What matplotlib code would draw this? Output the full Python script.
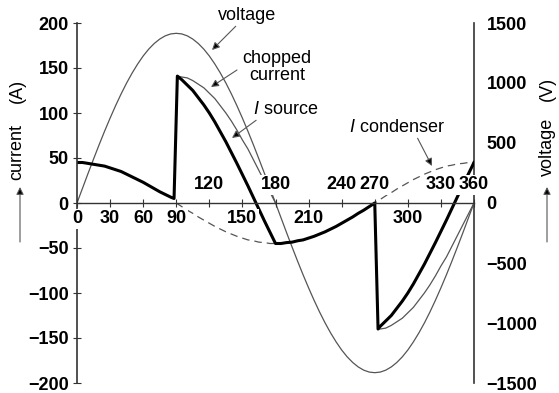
import numpy as np
import matplotlib
matplotlib.use("Agg")
import matplotlib.pyplot as plt

plt.rcParams['font.family'] = ['Liberation Sans', 'DejaVu Sans']
plt.rcParams['mathtext.fontset'] = 'custom'
plt.rcParams['mathtext.it'] = 'Liberation Sans:italic'
plt.rcParams['mathtext.rm'] = 'Liberation Sans'

# phase angle (degrees) for voltage, sampled every 5 deg
theta = np.arange(0, 361, 5)
voltage = [0, 123, 246, 366, 484, 598, 707, 811, 909, 1000, 1083, 1158, 1225, 1282, 1329, 1366, 1393, 1409, 1414,
           1409, 1393, 1366, 1329, 1282, 1225, 1158, 1083, 1000, 909, 811, 707, 598, 484, 366, 246, 123, 0,
           -123, -246, -366, -484, -598, -707, -811, -909, -1000, -1083, -1158, -1225, -1282, -1329, -1366, -1393, -1409, -1414,
           -1409, -1393, -1366, -1329, -1282, -1225, -1158, -1083, -1000, -909, -811, -707, -598, -484, -366, -246, -123, 0]

# chopped current (two half waves)
chop1_theta = [91] + list(range(95, 181, 5))
chop1 = [141, 140, 139, 136, 132, 128, 122, 116, 108, 100, 91, 81, 70, 60, 48, 36, 24, 12, 0]
chop2_theta = [273] + list(range(275, 361, 5))
chop2 = [-140, -140, -139, -136, -132, -128, -122, -116, -108, -100, -91, -81, -70, -60, -48, -36, -24, -12, 0]

# source current
src_theta = list(range(0, 86, 5)) + [88, 91] + list(range(95, 271, 5)) + [273] + list(range(275, 361, 5))
src = [45, 45, 44, 43, 42, 41, 39, 37, 35, 32, 29, 26, 23, 19.5, 16, 12.5, 9.5, 6.5,
       5, 141,
       137, 131, 125, 117, 109, 100, 90, 79, 68, 56, 44, 31.5, 19, 6, -7, -20, -32.5, -45,
       -45, -44, -43.5, -42, -41, -39, -37, -34.5, -32, -29, -26, -22.5, -19, -15.5, -11.5, -8, -4, 0,
       -140,
       -137, -131, -125, -117, -109, -100, -90, -79, -68, -56, -44, -31.5, -19, -6, 7, 20, 32.5, 45]

# condenser current
cond_theta = list(range(90, 361, 5))
cond = [0, -4, -8, -11.5, -15.5, -19, -22.5, -26, -29, -32, -34.5, -37, -39, -41, -42, -43.5, -44, -45, -45,
        -45, -44, -43.5, -42, -41, -39, -37, -34.5, -32, -29, -26, -22.5, -19, -15.5, -11.5, -8, -4, 0,
        4, 8, 11.5, 15.5, 19, 22.5, 26, 29, 32, 34.5, 37, 39, 41, 42, 43.5, 44, 45, 45]

x_ticks = list(range(0, 361, 30))
x_above = [120, 180, 240, 270, 330, 360]
current_ticks = list(range(-200, 201, 50))
voltage_ticks = list(range(-1500, 1501, 500))

W, H = 559, 393
thin = '#555555'


def fig_xy(px, py):
    return (px / W, 1 - py / H)


def num(v):
    return str(v).replace('-', '\u2212')


fig = plt.figure(figsize=(W / 100, H / 100), dpi=100)
rect = [77 / W, 1 - 383 / H, (474 - 77) / W, 360 / H]
ax = fig.add_axes(rect)
ax2 = ax.twinx()
ax.set_zorder(ax2.get_zorder() + 1)
ax.patch.set_visible(False)

ax.set_xlim(0, 360)
ax.set_ylim(-200, 200)
ax2.set_ylim(-1500, 1500)

# voltage on right axis (behind)
ax2.plot(theta, voltage, color=thin, lw=0.9)

ax.plot(chop1_theta, chop1, color=thin, lw=0.9)
ax.plot(chop2_theta, chop2, color=thin, lw=0.9)
ax.plot(cond_theta, cond, color=thin, lw=0.9, dashes=(6, 4))
ax.plot(src_theta, src, color='black', lw=2.2)

# spines
for s in ['top', 'right']:
    ax.spines[s].set_visible(False)
ax.spines['bottom'].set_position(('data', 0))
ax.spines['left'].set_color('#333333')
ax.spines['bottom'].set_color('#333333')
ax.spines['left'].set_linewidth(1.2)
ax.spines['bottom'].set_linewidth(1.0)
for s in ['top', 'left', 'bottom']:
    ax2.spines[s].set_visible(False)
ax2.spines['right'].set_color('#333333')
ax2.spines['right'].set_linewidth(1.2)

ax.set_xticks(x_ticks)
ax.set_xticklabels([])
ax.tick_params(axis='x', direction='inout', length=6, width=0.8, color='#333333')
ax.set_yticks(current_ticks)
ax.set_yticklabels([num(v) for v in current_ticks])
ax.tick_params(axis='y', direction='inout', length=6, width=0.8, color='#333333',
               labelsize=13, pad=3)
for lbl in ax.get_yticklabels():
    lbl.set_fontweight('bold')

ax2.set_yticks(voltage_ticks)
ax2.set_yticklabels([num(v) for v in voltage_ticks])
ax2.tick_params(axis='y', length=0, labelsize=13, pad=9)
for lbl in ax2.get_yticklabels():
    lbl.set_fontweight('bold')

# x tick labels, alternately above/below the zero line
for t in x_ticks:
    off = 13 if t in x_above else -11.5
    ax.annotate(str(t), xy=(t, 0), xytext=(0, off), textcoords='offset points',
                ha='center', va='center', fontsize=13, fontweight='bold',
                bbox=dict(fc='white', ec='none', pad=1.2), zorder=6)

# curve annotations
arrow = dict(arrowstyle='-|>', ec=thin, fc='black', lw=0.8, mutation_scale=11, shrinkA=0, shrinkB=0)
ax.annotate('voltage', xy=fig_xy(212, 50), xycoords='figure fraction',
            xytext=fig_xy(247, 15), textcoords='figure fraction',
            ha='center', va='center', fontsize=13, zorder=7, arrowprops=arrow)
ax.annotate('', xy=fig_xy(211, 87), xycoords='figure fraction',
            xytext=fig_xy(237, 70), textcoords='figure fraction', arrowprops=arrow, zorder=7)
ax.annotate('chopped\ncurrent', xy=fig_xy(277, 67), xycoords='figure fraction',
            ha='center', va='center', fontsize=13, linespacing=1.0, zorder=7)
ax.annotate('$I$ source', xy=fig_xy(232, 138), xycoords='figure fraction',
            xytext=fig_xy(286, 109), textcoords='figure fraction',
            ha='center', va='center', fontsize=13, zorder=7,
            arrowprops=dict(arrow, relpos=(0.1, 0.0)))
ax.annotate('$I$ condenser', xy=fig_xy(432, 166), xycoords='figure fraction',
            xytext=fig_xy(397, 127), textcoords='figure fraction',
            ha='center', va='center', fontsize=13, zorder=7,
            arrowprops=dict(arrow, relpos=(0.7, 0.0)))

# axis titles with arrows
fig.text(*fig_xy(17, 152), 'current', rotation=90, ha='center', va='center', fontsize=13)
fig.text(*fig_xy(17, 91), '(A)', rotation=90, ha='center', va='center', fontsize=13)
fig.text(*fig_xy(547, 147), 'voltage', rotation=90, ha='center', va='center', fontsize=13)
fig.text(*fig_xy(547, 89), '(V)', rotation=90, ha='center', va='center', fontsize=13)
for xp in (20, 547):
    ax.annotate('', xy=fig_xy(xp, 187), xycoords='figure fraction',
                xytext=fig_xy(xp, 242), textcoords='figure fraction', arrowprops=arrow)

fig.savefig('out.png', dpi=100)
